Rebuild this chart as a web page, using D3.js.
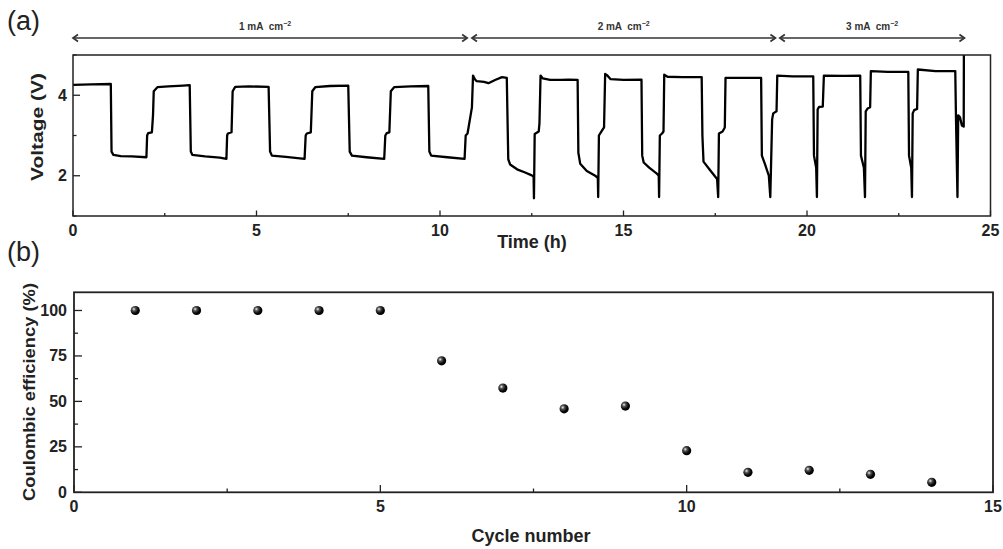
<!DOCTYPE html>
<html><head><meta charset="utf-8">
<script src="https://cdn.jsdelivr.net/npm/d3@7"></script>
<style>body{margin:0;background:#fff}svg{display:block}text{font-family:"Liberation Sans",Arial,sans-serif}</style>
</head><body>
<script>
// ---- Panel (a): voltage profile ----
const timeH = [0,0.5,1.03, 1.05,1.1,1.3,1.6,2.0, 2.02,2.05,2.15,2.18,2.2,2.3,2.6,3.0,3.18,
 3.21,3.25,3.6,4.0,4.18, 4.2,4.22,4.32,4.35,4.42,4.8,5.33, 5.37,5.42,5.8,6.31,
 6.34,6.37,6.48,6.52,6.6,7.0,7.5, 7.54,7.6,8.0,8.48, 8.51,8.55,8.62,8.66,8.75,9.2,9.68,
 9.71,9.76,10.2,10.67, 10.7,10.75,10.87,10.9,10.95,11.0,11.2,11.32,11.5,11.69,11.82,
 11.84,11.86,11.91,12.1,12.32,12.5,12.55,12.56, 12.58,12.69,12.71,12.74,12.8,13.0,13.3,13.5,13.75,
 13.77,13.82,14.0,14.23,14.3,14.31, 14.33,14.4,14.47,14.5,14.55,14.65,15.0,15.49,
 15.51,15.55,15.7,15.9,15.96,15.97, 15.99,16.05,16.09,16.11,16.2,16.6,17.13,
 17.15,17.18,17.35,17.55,17.58, 17.6,17.7,17.76,17.78,18.2,18.75,
 18.77,18.85,18.96,19.0, 19.05,19.08,19.17,19.19,19.6,20.17,
 20.19,20.25,20.27, 20.29,20.33,20.43,20.46,21.0,21.45,
 21.47,21.55,21.58, 21.6,21.65,21.72,21.74,22.2,22.76,
 22.78,22.84,22.86, 22.88,22.92,23.0,23.02,23.5,24.04,
 24.06,24.1,24.12,24.17,24.22,24.27,24.275];
const voltageV = [4.26,4.27,4.28, 2.6,2.52,2.49,2.48,2.46, 3.0,3.06,3.08,3.5,4.1,4.2,4.22,4.24,4.25,
 2.6,2.52,2.48,2.45,2.42, 3.0,3.05,3.08,4.1,4.21,4.22,4.21, 2.6,2.5,2.47,2.42,
 3.0,3.05,3.08,4.1,4.2,4.23,4.24, 2.6,2.5,2.46,2.42, 3.0,3.06,3.08,4.1,4.2,4.22,4.23,
 2.6,2.5,2.46,2.42, 3.0,3.05,3.7,4.49,4.4,4.35,4.33,4.3,4.38,4.45,4.43,
 3.4,2.41,2.28,2.16,2.08,2.01,1.98,1.44, 3.04,3.1,3.3,4.49,4.42,4.38,4.38,4.39,4.38,
 2.57,2.3,2.12,2.0,1.95,1.47, 3.0,3.1,3.2,4.53,4.5,4.4,4.38,4.39,
 2.5,2.33,2.2,2.06,2.0,1.47, 3.0,3.05,3.1,4.51,4.46,4.45,4.45,
 3.0,2.35,2.15,1.92,1.47, 3.05,3.1,3.2,4.43,4.43,4.43,
 2.5,2.3,2.0,1.47, 3.4,3.55,3.6,4.49,4.47,4.47,
 2.5,2.2,1.47, 3.65,3.71,3.72,4.49,4.48,4.49,
 2.5,2.2,1.47, 3.6,3.67,3.7,4.6,4.58,4.58,
 2.5,2.2,1.47, 3.55,3.63,3.66,4.64,4.6,4.6,
 3.4,1.47,3.5,3.45,3.25,3.22,5.0];
const timeTicks = [0,5,10,15,20,25];
const timeMinor = [2.5,7.5,12.5,17.5,22.5];
const voltTicks = [2,4];
const voltMinor = [1,3,5];
const currentLabels = ["1 mA  cm", "2 mA  cm", "3 mA  cm"];
const currentStart = [0, 10.87, 19.26];
const currentEnd = [10.74, 19.14, 24.29];

// ---- Panel (b): coulombic efficiency ----
const cycles = [1,2,3,4,5,6,7,8,9,10,11,12,13,14];
const efficiency = [100,100,100,100,100,72.3,57.3,45.9,47.4,22.9,11.0,12.1,9.9,5.5];
const cycleTicks = [0,5,10,15];
const cycleMinor = [2.5,7.5,12.5];
const effTicks = [0,25,50,75,100];
const effMinor = [12.5,37.5,62.5,87.5];

const W = 1003, H = 549;
const svg = d3.select("body").append("svg").attr("width", W).attr("height", H);
const dark = "#222";

const defs = svg.append("defs");
const grad = defs.append("radialGradient").attr("id","ball").attr("cx","35%").attr("cy","35%").attr("r","65%");
grad.append("stop").attr("offset","0%").attr("stop-color","#f2f2f2");
grad.append("stop").attr("offset","30%").attr("stop-color","#555");
grad.append("stop").attr("offset","70%").attr("stop-color","#0a0a0a");
grad.append("stop").attr("offset","100%").attr("stop-color","#000");

// ===== Panel a =====
const xa = d3.scaleLinear().domain([0,25]).range([73,990.5]);
const ya = d3.scaleLinear().domain([1,5]).range([216,55]);
defs.append("clipPath").attr("id","clipA").append("rect")
  .attr("x",73).attr("y",55).attr("width",990.5-73).attr("height",216-55);

const ga = svg.append("g");
const axA = ga.append("g").attr("stroke",dark).attr("stroke-width",1.3);
timeTicks.forEach(t=>axA.append("line").attr("x1",xa(t)).attr("x2",xa(t)).attr("y1",216).attr("y2",210.5));
timeMinor.forEach(t=>axA.append("line").attr("x1",xa(t)).attr("x2",xa(t)).attr("y1",216).attr("y2",213));
voltTicks.forEach(v=>axA.append("line").attr("x1",73).attr("x2",80).attr("y1",ya(v)).attr("y2",ya(v)));
voltMinor.forEach(v=>axA.append("line").attr("x1",73).attr("x2",76.5).attr("y1",ya(v)).attr("y2",ya(v)));

ga.append("path").datum(timeH.map((t,i)=>[t,voltageV[i]]))
  .attr("clip-path","url(#clipA)")
  .attr("d", d3.line().x(d=>xa(d[0])).y(d=>ya(d[1])))
  .attr("fill","none").attr("stroke","#000").attr("stroke-width",2.3).attr("stroke-linejoin","round");

ga.append("rect").attr("x",73).attr("y",55).attr("width",990.5-73).attr("height",216-55)
  .attr("fill","none").attr("stroke",dark).attr("stroke-width",1.5);

timeTicks.forEach(t=>ga.append("text").attr("x",xa(t)).attr("y",236).attr("text-anchor","middle")
  .attr("font-size",16).attr("font-weight","bold").attr("fill",dark).text(t));
voltTicks.forEach(v=>ga.append("text").attr("x",67).attr("y",ya(v)+5.5).attr("text-anchor","end")
  .attr("font-size",16).attr("font-weight","bold").attr("fill",dark).text(v));

ga.append("text").attr("x",532).attr("y",248).attr("text-anchor","middle")
  .attr("font-size",18).attr("font-weight","bold").attr("fill",dark).text("Time (h)");
ga.append("text").attr("transform","translate(43,127) rotate(-90)").attr("text-anchor","middle")
  .attr("font-size",17).attr("font-weight","bold").attr("fill",dark)
  .attr("textLength",108).attr("lengthAdjust","spacingAndGlyphs").text("Voltage (V)");

const arrowY = 38;
currentLabels.forEach((lab,i)=>{
  const x0 = xa(currentStart[i]), x1 = xa(currentEnd[i]);
  const g = ga.append("g").attr("stroke","#333").attr("stroke-width",1.7).attr("fill","none");
  g.append("line").attr("x1",x0).attr("x2",x1).attr("y1",arrowY).attr("y2",arrowY);
  g.append("path").attr("d",`M${x0+5},${arrowY-3.5}L${x0},${arrowY}L${x0+5},${arrowY+3.5}`);
  g.append("path").attr("d",`M${x1-5},${arrowY-3.5}L${x1},${arrowY}L${x1-5},${arrowY+3.5}`);
  const tx = ga.append("text").attr("x",(x0+x1)/2 - (i===0?5:0)).attr("y",30).attr("text-anchor","middle")
    .attr("font-size",10).attr("font-weight","bold").attr("fill","#333").attr("xml:space","preserve");
  tx.append("tspan").text(lab);
  tx.append("tspan").attr("font-size",7).attr("dy",-4).text("\u22122");
});

svg.append("text").attr("x",7).attr("y",30).attr("font-size",27).attr("fill","#222").text("(a)");
svg.append("text").attr("x",7).attr("y",261).attr("font-size",27).attr("fill","#222").text("(b)");

// ===== Panel b =====
const xb = d3.scaleLinear().domain([0,15]).range([74,993]);
const yb = d3.scaleLinear().domain([0,110]).range([492.3,292.3]);
const gb = svg.append("g");
const axB = gb.append("g").attr("stroke",dark).attr("stroke-width",1.3);
cycleTicks.forEach(t=>axB.append("line").attr("x1",xb(t)).attr("x2",xb(t)).attr("y1",492.3).attr("y2",485));
cycleMinor.forEach(t=>axB.append("line").attr("x1",xb(t)).attr("x2",xb(t)).attr("y1",492.3).attr("y2",488.5));
effTicks.forEach(v=>axB.append("line").attr("x1",74).attr("x2",82).attr("y1",yb(v)).attr("y2",yb(v)));
effMinor.forEach(v=>axB.append("line").attr("x1",74).attr("x2",78).attr("y1",yb(v)).attr("y2",yb(v)));

gb.append("rect").attr("x",74).attr("y",292.3).attr("width",993-74).attr("height",200)
  .attr("fill","none").attr("stroke",dark).attr("stroke-width",1.8);

gb.selectAll("circle").data(cycles).join("circle")
  .attr("cx",(d)=>xb(d)).attr("cy",(d,i)=>yb(efficiency[i])).attr("r",4.6)
  .attr("fill","url(#ball)");

cycleTicks.forEach(t=>gb.append("text").attr("x",xb(t)).attr("y",512).attr("text-anchor","middle")
  .attr("font-size",16).attr("font-weight","bold").attr("fill",dark).text(t));
effTicks.forEach(v=>gb.append("text").attr("x",67).attr("y",yb(v)+5.5).attr("text-anchor","end")
  .attr("font-size",16).attr("font-weight","bold").attr("fill",dark).text(v));

gb.append("text").attr("x",531).attr("y",542).attr("text-anchor","middle")
  .attr("font-size",18).attr("font-weight","bold").attr("fill",dark).text("Cycle number");
gb.append("text").attr("transform","translate(35,392) rotate(-90)").attr("text-anchor","middle")
  .attr("font-size",17).attr("font-weight","bold").attr("fill",dark)
  .attr("textLength",218).attr("lengthAdjust","spacingAndGlyphs").text("Coulombic efficiency (%)");
</script>
</body></html>
